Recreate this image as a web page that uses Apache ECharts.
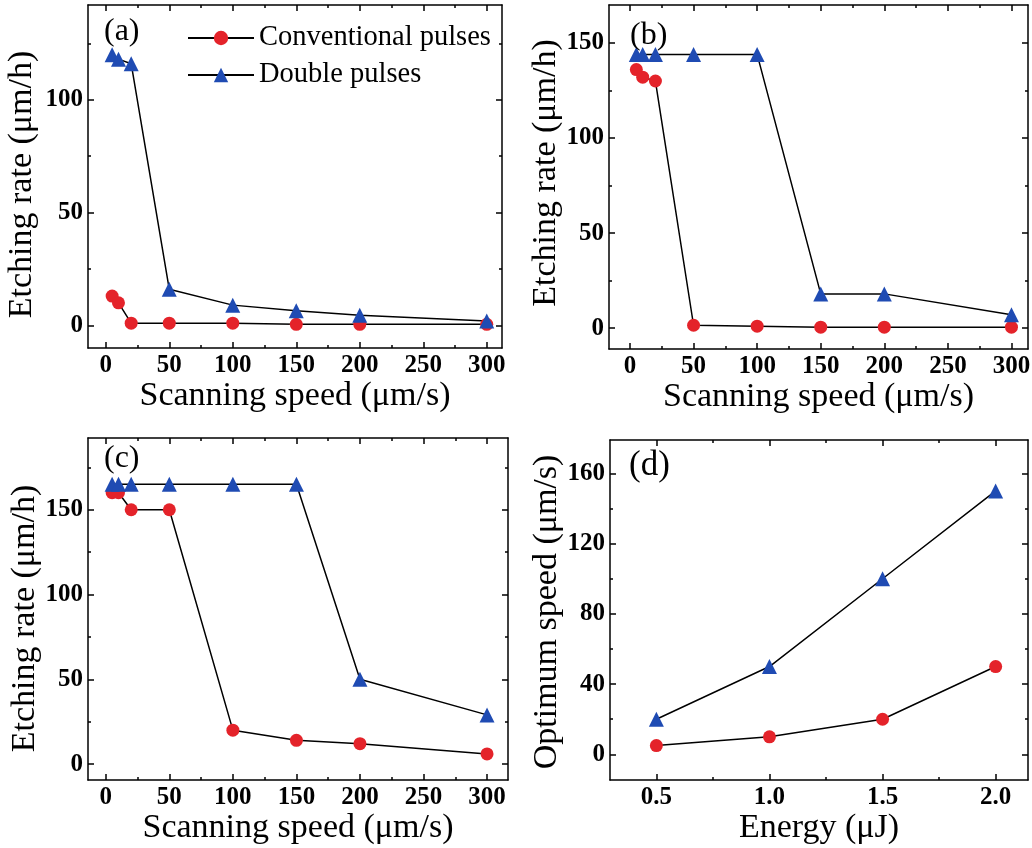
<!DOCTYPE html>
<html>
<head>
<meta charset="utf-8">
<script src="https://cdn.jsdelivr.net/npm/echarts@6/dist/echarts.min.js"></script>
<style>
  html, body { margin: 0; padding: 0; background: #fff; }
  #chart { width: 1032px; height: 848px; }
</style>
</head>
<body>
<div id="chart"></div>
<script>
// data
const speeds = [5, 10, 20, 50, 100, 150, 200, 300]
const convA = [13, 10, 1, 1, 1, 0.5, 0.5, 0.5]
const dblA = [120, 118, 116, 16, 9, 6.5, 4.5, 2]
const convB = [136, 132, 130, 1.5, 1, 0.5, 0.5, 0.5]
const dblB = [144, 144, 144, 144, 144, 18, 18, 7]
const convC = [160, 160, 150, 150, 20, 14, 12, 6]
const dblC = [165, 165, 165, 165, 165, 165, 50, 29]
const energy = [0.5, 1.0, 1.5, 2.0]
const convD = [5, 10, 20, 50]
const dblD = [20, 50, 100, 150]

const speedTicks = [0, 50, 100, 150, 200, 250, 300]
const speedMinor = [25, 75, 125, 175, 225, 275]
const rateTicksA = [0, 50, 100]
const rateMinorA = [25, 75, 125]
const rateTicksB = [0, 50, 100, 150]
const rateMinorB = [25, 75, 125]
const rateTicksC = [0, 50, 100, 150]
const rateMinorC = [25, 75, 125, 175]
const energyTicks = [0.5, 1.0, 1.5, 2.0]
const energyMinor = [0.75, 1.25, 1.75]
const optTicks = [0, 40, 80, 120, 160]
const optMinor = [20, 60, 100, 140]

const RED = '#e4232a'
const BLUE = '#1f4bb3'
const SERIF = 'Liberation Serif'

const panels = [
  { grid: { left: 88, top: 5, width: 414, height: 343 }, x: [-14, 312], y: [-10, 142],
    xt: speedTicks, xm: speedMinor, yt: rateTicksA, ym: rateMinorA,
    xName: 'Scanning speed (μm/s)', yName: 'Etching rate (μm/h)', xGap: 19, yGap: 49, yPad: [0, 16, 0, 0],
    xs: speeds, conv: convA, dbl: dblA, letter: '(a)', lx: 104, ly: 16, lf: 32 },
  { grid: { left: 609, top: 5, width: 419, height: 344 }, x: [-16.5, 313], y: [-11, 170],
    xt: speedTicks, xm: speedMinor, yt: rateTicksB, ym: rateMinorB,
    xName: 'Scanning speed (μm/s)', yName: 'Etching rate (μm/h)', xGap: 21, yGap: 31, yPad: [0, 0, 0, 8],
    xs: speeds, conv: convB, dbl: dblB, letter: '(b)', lx: 630, ly: 20, lf: 32 },
  { grid: { left: 88, top: 438, width: 420, height: 342 }, x: [-14, 316.5], y: [-9.4, 192.3],
    xt: speedTicks, xm: speedMinor, yt: rateTicksC, ym: rateMinorC,
    xName: 'Scanning speed (μm/s)', yName: 'Etching rate (μm/h)', xGap: 15, yGap: 44, yPad: [0, 19, 0, 0],
    xs: speeds, conv: convC, dbl: dblC, letter: '(c)', lx: 104, ly: 443, lf: 32 },
  { grid: { left: 610, top: 440, width: 418, height: 340 }, x: [0.295, 2.143], y: [-14.6, 179],
    xt: energyTicks, xm: energyMinor, yt: optTicks, ym: optMinor,
    xName: 'Energy (μJ)', yName: 'Optimum speed (μm/s)', xGap: 20, yGap: 37, yPad: [0, 4, 0, 0],
    xs: energy, conv: convD, dbl: dblD, letter: '(d)', lx: 629, ly: 448, lf: 35, xFmt: (v) => v.toFixed(1) },
]

function axisSet(dim, gi, range, major, minor, name, gap, fmt, pad) {
  const pos = dim === 'x' ? ['bottom', 'top'] : ['left', 'right']
  const base = {
    type: 'value', gridIndex: gi, min: range[0], max: range[1],
    splitLine: { show: false },
    axisLine: { show: false, onZero: false },
    axisLabel: { show: false },
  }
  const frame = { show: true, onZero: false, lineStyle: { color: '#000', width: 1.5 } }
  const tick = (vals, len) => ({ show: true, inside: true, length: len, customValues: vals, lineStyle: { color: '#000', width: 1.5 } })
  return [
    Object.assign({}, base, {
      position: pos[0],
      axisLine: frame,
      axisTick: tick(major, 6),
      axisLabel: {
        show: true, customValues: major, formatter: fmt || ((v) => String(v)),
        fontFamily: SERIF, fontWeight: 'bold', fontSize: 25, color: '#000', margin: dim === 'x' ? 5 : 5,
      },
      name: name, nameLocation: 'middle', nameGap: gap,
      nameTextStyle: { fontFamily: SERIF, fontSize: 34, color: '#000', padding: pad || 0 },
    }),
    Object.assign({}, base, { position: pos[0], axisTick: tick(minor, 3) }),
    Object.assign({}, base, { position: pos[1], axisLine: frame, axisTick: tick(major, 6) }),
    Object.assign({}, base, { position: pos[1], axisTick: tick(minor, 3) }),
  ]
}

let grid = [], xAxis = [], yAxis = [], series = [], title = []
panels.forEach((p, gi) => {
  grid.push(Object.assign({ outerBoundsMode: 'none' }, p.grid))
  xAxis.push(...axisSet('x', gi, p.x, p.xt, p.xm, p.xName, p.xGap, p.xFmt))
  yAxis.push(...axisSet('y', gi, p.y, p.yt, p.ym, p.yName, p.yGap, null, p.yPad))
  title.push({
    text: p.letter, left: p.lx, top: p.ly, padding: 0,
    textStyle: { fontFamily: SERIF, fontWeight: 'normal', fontSize: p.lf, color: '#000' },
  })
  series.push({
    name: 'Conventional pulses', type: 'line', xAxisIndex: gi * 4, yAxisIndex: gi * 4,
    data: p.xs.map((x, i) => [x, p.conv[i]]),
    symbol: 'circle', symbolSize: 13,
    itemStyle: { color: RED },
    lineStyle: { color: '#000', width: 1.5 },
  })
  series.push({
    name: 'Double pulses', type: 'line', xAxisIndex: gi * 4, yAxisIndex: gi * 4,
    data: p.xs.map((x, i) => [x, p.dbl[i]]),
    symbol: 'triangle', symbolSize: 15,
    itemStyle: { color: BLUE },
    lineStyle: { color: '#000', width: 1.5 },
  })
})

var myChart = echarts.init(document.getElementById('chart'))
myChart.setOption({
  backgroundColor: '#fff',
  animation: false,
  title: title,
  legend: {
    data: ['Conventional pulses', 'Double pulses'],
    orient: 'vertical', left: 182, top: 18,
    itemWidth: 66, itemHeight: 18, itemGap: 7,
    selectedMode: false,
    textStyle: { fontFamily: SERIF, fontSize: 28.5, color: '#000', lineHeight: 30 },
  },
  grid: grid,
  xAxis: xAxis,
  yAxis: yAxis,
  series: series,
})
</script>
</body>
</html>
